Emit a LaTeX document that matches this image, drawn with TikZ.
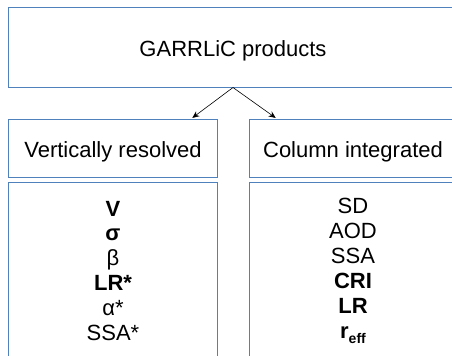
\documentclass[tikz,border=0pt]{standalone}
\usepackage{fontspec}
\setmainfont{Liberation Sans}
\usepackage{xcolor}
\usetikzlibrary{arrows.meta}
\definecolor{boxblue}{HTML}{4F81BD}

\begin{document}
\begin{tikzpicture}[
  x=1bp, y=-1bp,
  box/.style={rectangle, draw=boxblue, line width=1bp, inner sep=0pt,
    font=\fontsize{22bp}{25bp}\selectfont, text height=20bp, text depth=1bp},
  item/.style={anchor=base, inner sep=0pt, font=\fontsize{22bp}{25bp}\selectfont},
  arrow/.style={-{Stealth[length=7bp,width=6bp]}, line width=0.6pt, shorten >=1bp}
]
\useasboundingbox (0,0) rectangle (452,355);

\node[box, minimum width=448bp, minimum height=80bp] (prod) at (233,47) {GARRLiC products};
\node[box, minimum width=208bp, minimum height=58bp] (vert) at (113,148) {Vertically resolved};
\node[box, minimum width=208bp, minimum height=58bp] (col) at (353,148) {Column integrated};
\node[box, minimum width=208bp, minimum height=218bp] (vlist) at (113,291) {};
\node[box, minimum width=208bp, minimum height=218bp] (clist) at (353,291) {};

\draw[arrow] (prod.south) -- ([xshift=-26bp]vert.north east);
\draw[arrow] (prod.south) -- ([xshift=28bp]col.north west);

% list entries
\foreach \txt [count=\i from 0] in {\textbf{V}, \textbf{σ}, β, \textbf{LR*}, α*, SSA*}
  \node[item] (v\i) at (113, 216+24.8*\i) {\txt};
\foreach \txt [count=\i from 0] in {SD, AOD, SSA, \textbf{CRI}, \textbf{LR},
    {\textbf{r}\raisebox{-5bp}{\fontsize{14bp}{14bp}\selectfont\bfseries eff}}}
  \node[item] (c\i) at (353, 213+25*\i) {\txt};

\end{tikzpicture}
\end{document}
